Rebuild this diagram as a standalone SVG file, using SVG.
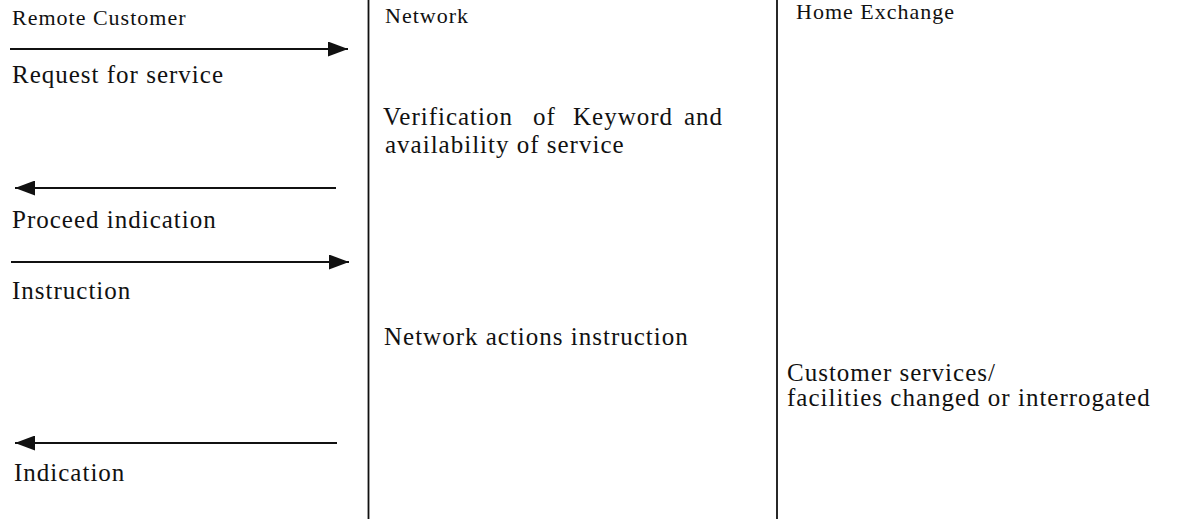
<svg xmlns="http://www.w3.org/2000/svg" width="1180" height="519" viewBox="0 0 1180 519">
<style>
.h{font-family:"Liberation Serif","Times New Roman",serif;font-size:22px;letter-spacing:1px;fill:#111}
.t{font-family:"Liberation Serif","Times New Roman",serif;font-size:25px;letter-spacing:1px;fill:#111}
.ln{stroke:#111;stroke-width:1.8;fill:none}
.ar{stroke:#111;stroke-width:1.8;fill:none}
</style>
<defs>
<marker id="ah" viewBox="0 0 20 15" refX="20" refY="7.5" markerWidth="20" markerHeight="15" markerUnits="userSpaceOnUse" orient="auto">
<path d="M0,0 L20,7.5 L0,15 Z" fill="#111"/>
</marker>
</defs>
<rect width="1180" height="519" fill="#fff"/>
<g id="lanes">
<line class="ln" x1="368.5" y1="0" x2="368.5" y2="519"/>
<line class="ln" x1="777" y1="0" x2="777" y2="519"/>
</g>
<g id="remote-customer"><text class="h" x="12" y="25">Remote Customer</text></g>
<g id="network"><text class="h" x="385" y="23">Network</text></g>
<g id="home-exchange"><text class="h" x="796" y="19">Home Exchange</text></g>
<g id="connectors">
<line class="ar" x1="10" y1="49" x2="348" y2="49" marker-end="url(#ah)"/>
<line class="ar" x1="336" y1="188" x2="15" y2="188" marker-end="url(#ah)"/>
<line class="ar" x1="11" y1="262" x2="349" y2="262" marker-end="url(#ah)"/>
<line class="ar" x1="337" y1="443" x2="15" y2="443" marker-end="url(#ah)"/>
</g>
<g id="labels">
<text class="t" x="12" y="83">Request for service</text>
<text class="t" y="125"><tspan x="383">Verification</tspan><tspan x="533">of</tspan><tspan x="573">Keyword</tspan><tspan x="684">and</tspan></text>
<text class="t" x="385" y="153">availability of service</text>
<text class="t" x="12" y="228">Proceed indication</text>
<text class="t" x="12" y="299">Instruction</text>
<text class="t" x="384" y="345">Network actions instruction</text>
<text class="t" x="787" y="381">Customer services/</text>
<text class="t" x="787" y="406">facilities changed or interrogated</text>
<text class="t" x="14" y="481">Indication</text>
</g>
</svg>
